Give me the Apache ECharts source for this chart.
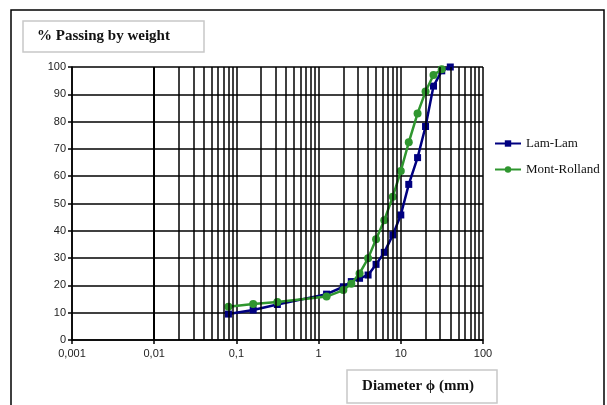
<!DOCTYPE html>
<html>
<head>
<meta charset="utf-8">
<script src="https://cdn.jsdelivr.net/npm/echarts@6/dist/echarts.min.js"></script>
<style>
  html, body { margin: 0; padding: 0; background: #fff; }
  #chart { width: 607px; height: 405px; }
</style>
</head>
<body>
<div id="chart"></div>
<script>
// sieve sizes (mm)
const lamLamX = [0.08, 0.16, 0.315, 1.25, 2, 2.5, 3.15, 4, 5, 6.3, 8, 10, 12.5, 16, 20, 25, 31.5, 40]
const lamLamY = [9.5, 11, 13, 16.8, 19.5, 21.4, 22.6, 23.8, 27.7, 32.1, 38.5, 45.8, 57, 66.8, 78.2, 93, 98.6, 100]
const montX = [0.08, 0.16, 0.315, 1.25, 2, 2.5, 3.15, 4, 5, 6.3, 8, 10, 12.5, 16, 20, 25, 31.5]
const montY = [12.2, 13.2, 13.9, 15.9, 18.3, 20.6, 24.4, 29.9, 36.9, 43.9, 52.5, 61.9, 72.4, 83, 91, 97.1, 99.2]

const xTickLabels = { 0.001: '0,001', 0.01: '0,01', 0.1: '0,1', 1: '1', 10: '10', 100: '100' }

// minor gridlines at 2..9 x each decade
const minorGrid = []
for (let d = 0.001; d < 50; d *= 10) {
  for (let m = 2; m <= 9; m++) minorGrid.push(+(m * d).toPrecision(3))
}

const chart = echarts.init(document.getElementById('chart'))
const option = {
  animation: false,
  grid: { left: 72, right: 124, top: 67, bottom: 65 },
  graphic: [
    { type: 'rect', shape: { x: 11, y: 10, width: 593, height: 420 },
      style: { fill: 'none', stroke: '#000', lineWidth: 1.5 }, silent: true },
    { type: 'rect', shape: { x: 23, y: 21, width: 181, height: 31 },
      style: { fill: '#fff', stroke: '#c8c8c8', lineWidth: 1.5 }, silent: true },
    { type: 'text', x: 37, y: 36,
      style: { text: '% Passing by weight', font: 'bold 15px "Liberation Serif"', fill: '#111', textVerticalAlign: 'middle' } },
    { type: 'rect', shape: { x: 347, y: 370, width: 150, height: 33 },
      style: { fill: '#fff', stroke: '#c8c8c8', lineWidth: 1.5 }, silent: true },
    { type: 'text', x: 418, y: 386,
      style: { text: 'Diameter \u03D5 (mm)', font: 'bold 15px "Liberation Serif"', fill: '#111', textAlign: 'center', textVerticalAlign: 'middle' } }
  ],
  legend: {
    data: ['Lam-Lam', 'Mont-Rolland'],
    orient: 'vertical',
    left: 489, top: 132,
    itemWidth: 26, itemHeight: 8, itemGap: 13,
    textStyle: { fontFamily: 'Liberation Serif', fontSize: 13, color: '#111' }
  },
  xAxis: {
    type: 'log', logBase: 10, min: 0.001, max: 100,
    axisLine: { show: true, lineStyle: { color: '#000', width: 1.5 } },
    axisTick: { show: true, length: 4, lineStyle: { color: '#000', width: 1.5 } },
    splitLine: { show: true, lineStyle: { color: '#000', width: 1.5 } },
    axisLabel: {
      fontFamily: 'Liberation Sans', fontSize: 11, color: '#222', margin: 8,
      formatter: v => xTickLabels[+v.toPrecision(3)] || ''
    }
  },
  yAxis: {
    type: 'value', min: 0, max: 100, interval: 10,
    axisLine: { show: true, lineStyle: { color: '#000', width: 1.5 } },
    axisTick: { show: true, length: 4, lineStyle: { color: '#000', width: 1.5 } },
    splitLine: { show: true, lineStyle: { color: '#000', width: 1.5 } },
    axisLabel: { fontFamily: 'Liberation Sans', fontSize: 11, color: '#222', margin: 6 }
  },
  series: [
    {
      name: 'grid', type: 'line', data: [], z: 1, silent: true,
      markLine: {
        silent: true, symbol: 'none', label: { show: false },
        emphasis: { disabled: true },
        lineStyle: { color: '#000', width: 1.5, type: 'solid', opacity: 1 },
        data: minorGrid.map(v => ({ xAxis: v }))
      }
    },
    {
      name: 'Lam-Lam', type: 'line', z: 3,
      data: lamLamX.map((x, i) => [x, lamLamY[i]]),
      symbol: 'rect', symbolSize: 7,
      itemStyle: { color: '#000080' },
      lineStyle: { color: '#000080', width: 2.5 }
    },
    {
      name: 'Mont-Rolland', type: 'line', z: 4,
      data: montX.map((x, i) => [x, montY[i]]),
      symbol: 'circle', symbolSize: 8,
      itemStyle: { color: '#2f962f' },
      lineStyle: { color: '#2f962f', width: 2.5 }
    }
  ]
}
chart.setOption(option)
window.onresize = function () {
  chart.resize()
}
</script>
</body>
</html>
